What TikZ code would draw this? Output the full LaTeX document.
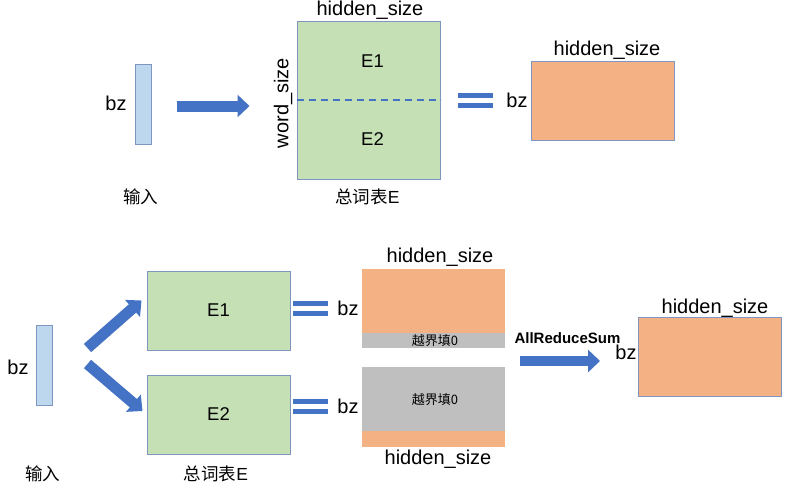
\documentclass[tikz,border=0pt]{standalone}
\usepackage{fontspec}
\setmainfont{Liberation Sans}
\newfontfamily\cjk{Noto Sans CJK SC}
\usetikzlibrary{arrows.meta}

\definecolor{barblue}{HTML}{BDD7EE}
\definecolor{embgreen}{HTML}{C5E0B4}
\definecolor{outorange}{HTML}{F4B183}
\definecolor{padgray}{HTML}{BFBFBF}
\definecolor{arrowblue}{HTML}{4472C4}
\definecolor{edgeblue}{HTML}{7F97C0}

\tikzset{
  inbar/.style={draw=edgeblue, line width=1pt, fill=barblue, minimum width=16pt, minimum height=80pt, inner sep=0pt},
  tabbox/.style={draw=edgeblue, line width=1pt, fill=embgreen, minimum width=143pt, minimum height=79pt, inner sep=0pt},
  outbox/.style={draw=edgeblue, line width=1pt, fill=outorange, minimum width=143pt, minimum height=79pt, inner sep=0pt},
  padbox/.style={fill=outorange, minimum width=143pt, minimum height=79pt, inner sep=0pt},
  fatarrow/.style={draw=arrowblue, line width=11pt, -{Triangle[length=12pt, width=22pt]}},
  eqbar/.style={draw=arrowblue, line width=5pt},
  lbl/.style={font=\fontsize{20}{24}\selectfont, inner sep=0pt},
  elbl/.style={font=\fontsize{18.5}{22}\selectfont, inner sep=0pt},
  cnlbl/.style={font=\fontsize{17.5}{21}\selectfont, inner sep=0pt},
  padlbl/.style={font=\cjk\fontsize{13}{15}\selectfont, inner sep=0pt},
}

\begin{document}
\begin{tikzpicture}[x=1pt, y=-1pt]
\useasboundingbox (0,0) rectangle (790,483);

% Parte de cima: tabela inteira
\node[inbar] (in1) at (143,104) {};
\node[lbl] (bz1) at (116,103) {bz};
\node[cnlbl] (lin1) at (140.5,197) {\cjk 输入};

\node[tabbox, minimum height=158pt] (emb) at (368.5,100) {};
\draw[arrowblue, line width=2pt, dash pattern=on 7pt off 5pt] (emb.west) -- (emb.east);
\node[elbl] (e1) at (372.5,61.5) {E1};
\node[elbl] (e2) at (372.5,139.5) {E2};
\node[lbl] (hs1) at (370,10) {hidden\_size};
\node[lbl, rotate=90] (ws) at (283,103) {word\_size};
\node[cnlbl] (tab1) at (367.5,197) {{\cjk 总词表}E};

\draw[fatarrow, shorten <=25pt, shorten >=47pt] ([yshift=-2pt]in1.east) -- ([yshift=-2pt]in1.east -| emb.west);

\node[outbox] (out1) at (602.5,100.5) {};
\node[lbl] (hs2) at (607,50) {hidden\_size};
\node[lbl] (bz2) at (517,100) {bz};

% Parte de baixo: tabela dividida
\node[inbar] (in2) at (44,365) {};
\node[lbl] (bz3) at (18,367) {bz};
\node[cnlbl] (lin2) at (42.5,474) {\cjk 输入};

\node[tabbox] (E1) at (218.5,310.5) {};
\node[elbl] at (E1) {E1};
\node[tabbox] (E2) at (218.5,414.5) {};
\node[elbl] at (E2) {E2};
\node[cnlbl] (tab2) at (216,474) {{\cjk 总词表}E};

\draw[fatarrow] ([shift={(35,-17)}]in2.east) -- ([shift={(-5,-10)}]E1.west);
\draw[fatarrow] ([shift={(35,-1)}]in2.east) -- ([shift={(-4,-3.5)}]E2.west);

% sinais de igual
\foreach \x/\y in {458/100.8, 293/308.5, 293/406.5} {
  \draw[eqbar] (\x,\y-5) -- ++(35,0);
  \draw[eqbar] (\x,\y+5) -- ++(35,0);
}
\node[lbl] (bz4) at (348,308) {bz};
\node[lbl] (bz5) at (348,406.5) {bz};

% resultados parciais
\node[padbox] (p1) at (433.5,308.5) {};
\fill[padgray] (p1.south west) rectangle ([yshift=15pt]p1.south east);
\node[padlbl] at (435,341) {越界填0};
\node[lbl] (hs3) at (440,257.5) {hidden\_size};

\node[padbox, minimum height=80pt] (p2) at (433.5,407) {};
\fill[padgray] (p2.north west) rectangle ([yshift=16pt]p2.south east);
\node[padlbl] at (435,400) {越界填0};
\node[lbl] (hs4) at (438,459.5) {hidden\_size};

% soma
\node[outbox] (res) at (710,356.5) {};
\node[lbl] (hs5) at (715,308) {hidden\_size};
\node[lbl] (bz6) at (626,352) {bz};
\draw[fatarrow, line width=10pt, shorten <=15pt, shorten >=38pt] ([yshift=-4.5pt]res.west -| p1.east) -- ([yshift=-4.5pt]res.west);
\node[font=\bfseries\fontsize{15}{18}\selectfont, inner sep=0pt] (ars) at (567.5,338.5) {AllReduceSum};

\end{tikzpicture}
\end{document}
